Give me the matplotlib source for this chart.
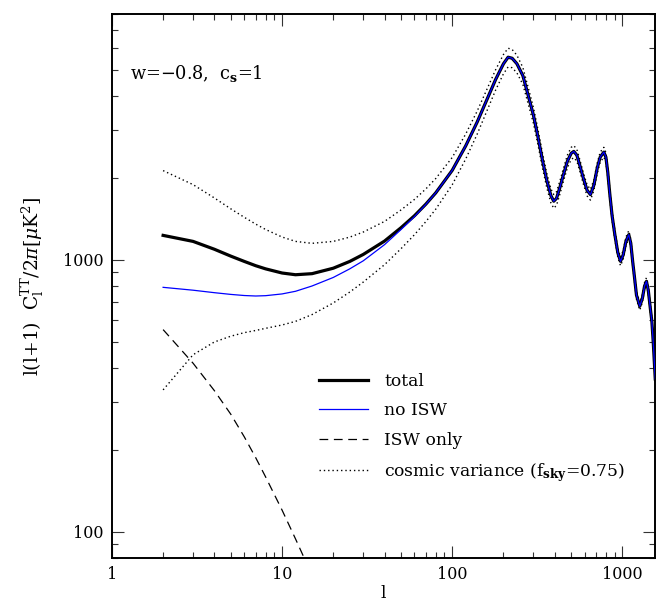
import matplotlib
matplotlib.use('Agg')
import matplotlib.pyplot as plt
from matplotlib.ticker import LogLocator, FixedLocator, FixedFormatter, NullFormatter

# Plot formatting constants
BASE_FONT = 11.5
TEXT_FONT = 12.3
FIGSIZE = (6.70, 6.04)

# multipoles
ell = [2, 3, 4, 5, 6, 7, 8, 10, 12, 15, 20, 25, 30, 40, 50, 60, 70, 80, 100, 120,
       140, 160, 180, 200, 213, 225, 240, 260, 280, 300, 320, 340, 360, 380, 395, 410,
       430, 450, 475, 500, 518, 540, 560, 590, 620, 649, 680, 711, 740, 778, 800, 820,
       844, 870, 903, 940, 975, 1010, 1050, 1090, 1120, 1150, 1173, 1210, 1265, 1310,
       1350, 1385, 1420, 1460, 1490, 1520, 1560]

total = [1228, 1167, 1092, 1030, 985, 950, 925, 893, 880, 888, 930, 985, 1045, 1170,
         1310, 1450, 1600, 1760, 2130, 2620, 3200, 3880, 4600, 5250, 5550, 5500, 5250,
         4750, 4000, 3400, 2800, 2300, 1950, 1720, 1640, 1680, 1850, 2050, 2300, 2460,
         2500, 2420, 2240, 1990, 1800, 1734, 1880, 2168, 2380, 2485, 2380, 2100, 1734,
         1450, 1235, 1060, 986, 1040, 1170, 1235, 1150, 980, 881, 740, 674, 720, 800,
         832, 770, 660, 593, 490, 364]

# no-ISW differs only at low l (l <= 70), merges with total above
no_isw_low = [791, 772, 756, 745, 738, 735, 737, 748, 765, 800, 860, 925, 990, 1135,
              1290, 1440, 1597]

cv_upper = [2125, 1887, 1686, 1537, 1431, 1351, 1291, 1211, 1167, 1148, 1167, 1210,
            1263, 1382, 1523, 1665, 1820, 1987, 2375, 2896, 3512, 4233, 4995, 5678,
            5989, 5923, 5641, 5090, 4276, 3626, 2981, 2444, 2069, 1822, 1735, 1776,
            1953, 2162, 2422, 2587, 2627, 2540, 2349, 2085, 1884, 1813, 1963, 2262,
            2481, 2588, 2477, 2185, 1803, 1507, 1282, 1100, 1022, 1078, 1212, 1278,
            1190, 1013, 911, 765, 696, 743, 825, 858, 794, 680, 611, 505, 375]

cv_lower = [332, 447, 498, 523, 539, 549, 559, 575, 593, 628, 693, 760, 827, 958, 1097,
            1235, 1380, 1533, 1885, 2344, 2888, 3527, 4205, 4822, 5112, 5077, 4859,
            4410, 3724, 3174, 2619, 2156, 1831, 1618, 1545, 1584, 1747, 1938, 2178,
            2333, 2373, 2300, 2131, 1895, 1716, 1655, 1797, 2074, 2279, 2382, 2283,
            2015, 1665, 1393, 1188, 1020, 950, 1002, 1128, 1192, 1110, 947, 851, 715,
            652, 697, 775, 806, 746, 640, 575, 475, 353]

ell_isw = [2, 3, 4, 5, 6, 7, 8, 10, 12, 14]
isw_only = [553, 416, 330, 270, 223, 187, 159, 120, 94, 76]

x_ticks = [1, 10, 100, 1000]
x_tick_labels = ['1', '10', '100', '1000']
y_ticks = [100, 1000]
y_tick_labels = ['100', '1000']


def main():
    plt.rcParams['font.family'] = ['DejaVu Serif']
    plt.rcParams['mathtext.fontset'] = 'dejavuserif'
    plt.rcParams['font.size'] = BASE_FONT

    fig = plt.figure(figsize=FIGSIZE, dpi=100)
    ax = fig.add_axes([0.167, 0.0762, 0.811, 0.9006])

    no_isw = no_isw_low + total[len(no_isw_low):]

    dots = (0, (1, 2.1))
    ax.plot(ell, total, color='black', lw=2.3, label='total', zorder=3)
    ax.plot(ell, no_isw, color='#0000ff', lw=0.9, label='no ISW', zorder=4)
    ax.plot(ell_isw, isw_only, color='black', lw=0.9, ls=(0, (7, 4.5)), label='ISW only')
    ax.plot(ell, cv_upper, color='black', lw=1.0, ls=dots,
            label=r'cosmic variance (f$_{\bf sky}$=0.75)')
    ax.plot(ell, cv_lower, color='black', lw=1.0, ls=dots)

    ax.set_xscale('log')
    ax.set_yscale('log')
    ax.set_xlim(1, 1560)
    ax.set_ylim(80, 8000)

    ax.xaxis.set_major_locator(FixedLocator(x_ticks))
    ax.xaxis.set_major_formatter(FixedFormatter(x_tick_labels))
    ax.yaxis.set_major_locator(FixedLocator(y_ticks))
    ax.yaxis.set_major_formatter(FixedFormatter(y_tick_labels))
    for axis in (ax.xaxis, ax.yaxis):
        axis.set_minor_locator(LogLocator(base=10, subs=range(2, 10), numticks=20))
        axis.set_minor_formatter(NullFormatter())

    ax.tick_params(which='both', direction='in', top=True, right=True, width=0.8,
                   color='#333333', labelsize=BASE_FONT)
    ax.tick_params(which='major', length=8.5, pad=6)
    ax.tick_params(which='minor', length=4.3)
    for sp in ax.spines.values():
        sp.set_linewidth(1.4)

    ax.set_xlabel('l', fontsize=BASE_FONT + 1, labelpad=1)
    ax.set_ylabel(r'l(l+1)  C$_{\rm l}^{\rm TT}$/2$\pi$[$\mu$K$^2$]', fontsize=13.5,
                  labelpad=12)

    ax.text(0.033, 0.891, r'w=$-$0.8,  c$_{\bf s}$=1', transform=ax.transAxes,
            fontsize=TEXT_FONT + 0.5, va='center', ha='left')

    ax.legend(loc='upper left', bbox_to_anchor=(0.352, 0.368), frameon=False,
              handlelength=2.9, handletextpad=0.95, labelspacing=0.72,
              fontsize=TEXT_FONT)

    plt.savefig('out.png', dpi=100)
    plt.close()


if __name__ == '__main__':
    main()
